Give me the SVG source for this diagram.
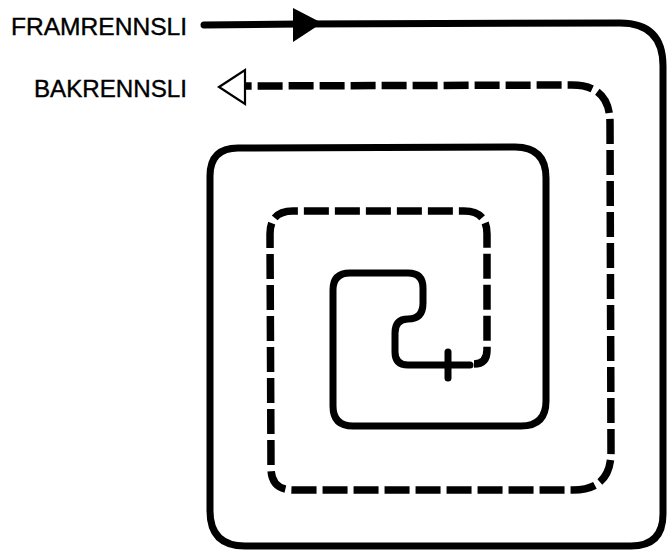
<svg xmlns="http://www.w3.org/2000/svg" width="667" height="551" viewBox="0 0 667 551">
<style>
.lbl{font-family:"Liberation Sans",Arial,sans-serif;font-size:24px;fill:#000;stroke:#000;stroke-width:0.4}
.solid{fill:none;stroke:#000;stroke-width:7;stroke-linejoin:round;stroke-linecap:round}
.dash{fill:none;stroke:#000;stroke-width:7.5;stroke-dasharray:25 6;stroke-linecap:butt}
</style>
<rect width="667" height="551" fill="#fff"/>
<g id="framrennsli">
<text class="lbl" x="11" y="35" textLength="176" lengthAdjust="spacingAndGlyphs">FRAMRENNSLI</text>
<polygon points="293,8 293,42 322,23" fill="#000"/>
</g>
<g id="bakrennsli">
<text class="lbl" x="34" y="97" textLength="153" lengthAdjust="spacingAndGlyphs">BAKRENNSLI</text>
<polygon points="219,87 245,70 245,104" fill="#fff" stroke="#000" stroke-width="2.2" stroke-linejoin="miter"/>
</g>
<g id="pipes">
<path id="supply" class="solid" d="M204,25 L300,24 L620,23 Q663,23 663,66 L663,514 Q663,546 631,546 L245,546 Q210,546 210,511 L210,176 Q210,148 238,148 L515,147 Q546,147 546,178 L546,401 Q546,426 521,426 L353,426 Q333,426 333,406 L333,290 Q333,273 350,273 L408,273 Q423,273 423,288 L423,303 Q423,319 408,319 Q395,319 395,333 L395,352 Q395,365 408,365 L470,365"/>
<path id="cross" class="solid" d="M448,352 L448,378"/>
<path id="return" class="dash" d="M474,364 Q487,364 487,350 L487,234 Q487,211 464,211 L293,211 Q270,211 270,234 L271,468 Q271,490 293,490 L573,490 Q611,490 611,452 L610,123 Q610,85 572,85 L245,86"/>
</g>
</svg>
